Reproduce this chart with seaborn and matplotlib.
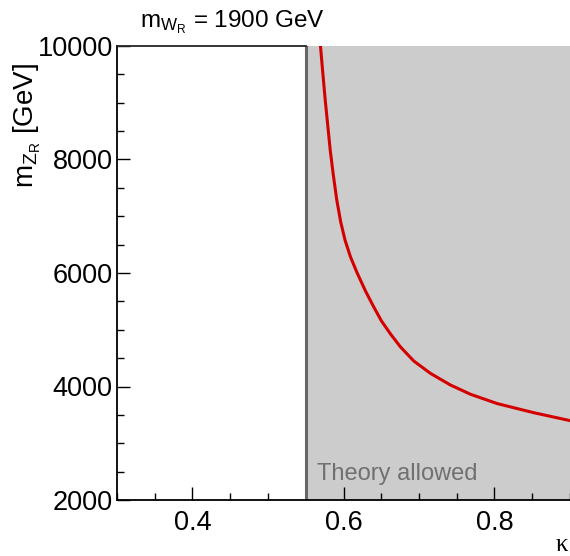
import numpy as np
import pandas as pd
import seaborn as sns
import matplotlib
matplotlib.use('Agg')
from matplotlib import pyplot as plt
from matplotlib.ticker import MultipleLocator

# curve: kappa vs m_ZR [GeV]
kappa = [0.5695, 0.5726, 0.5758, 0.5791, 0.5824, 0.5865, 0.5911, 0.5963,
         0.6020, 0.6093, 0.6181, 0.6291, 0.6401, 0.6503, 0.6623, 0.6755,
         0.6931, 0.7152, 0.7417, 0.7682, 0.8036, 0.8521, 0.9007]
m_zr = [10000, 9524, 9048, 8608, 8167, 7727, 7286, 6899,
        6581, 6282, 6000, 5683, 5401, 5154, 4925, 4696,
        4449, 4231, 4026, 3863, 3699, 3538, 3397]

kappa_min = 0.55      # theory allowed boundary
m_wr = 1900
x_range = (0.3, 0.9)
y_range = (2000, 10000)
x_ticks = [0.4, 0.6, 0.8]
y_ticks = [2000, 4000, 6000, 8000, 10000]

df = pd.DataFrame({'kappa': kappa, 'm_zr': m_zr})

sns.set_style('ticks', {'text.color': 'black', 'xtick.color': 'black',
                        'ytick.color': 'black', 'axes.labelcolor': 'black'})
plt.rcParams['font.family'] = ['Liberation Sans', 'DejaVu Sans']
plt.rcParams['mathtext.fontset'] = 'custom'
plt.rcParams['mathtext.rm'] = 'Liberation Sans'
plt.rcParams['mathtext.it'] = 'Liberation Sans'

fig = plt.figure(figsize=(5.7, 5.56), dpi=100)
ax = fig.add_axes([117 / 570, 1 - 500 / 556, 453 / 570, 454 / 556])

# shaded allowed region + its boundary
ax.axvspan(kappa_min, x_range[1], color='#cccccc', lw=0, zorder=0.5)
ax.axvline(kappa_min, color='#666666', lw=2.2, zorder=1)

sns.lineplot(data=df, x='kappa', y='m_zr', ax=ax, color='#d40000', lw=2.2,
             zorder=2, estimator=None, sort=False)

ax.text(0.565, 2350, 'Theory allowed', color='#707070', fontsize=17,
        ha='left', va='baseline')

ax.set_xlim(*x_range)
ax.set_ylim(*y_range)
ax.set_xticks(x_ticks)
ax.set_yticks(y_ticks)
ax.set_xticklabels([f'{t:.1f}' for t in x_ticks])
ax.set_yticklabels([str(t) for t in y_ticks])
ax.xaxis.set_minor_locator(MultipleLocator(0.05))
ax.yaxis.set_minor_locator(MultipleLocator(500))
ax.tick_params(which='major', direction='in', length=9.5, width=1,
               labelsize=19.5, color='black', labelcolor='black')
ax.tick_params(axis='x', which='major', pad=7)
ax.tick_params(axis='y', which='major', pad=3)
ax.tick_params(which='minor', direction='in', length=5, width=1)
ax.set_xlabel('')
ax.set_ylabel('')

for s in ['left', 'bottom']:
    ax.spines[s].set_linewidth(1.3)
    ax.spines[s].set_color('black')
ax.spines['right'].set_visible(False)
ax.spines['top'].set_linewidth(1.3)
ax.spines['top'].set_bounds(x_range[0], kappa_min)

fig.text(140 / 570, 1 - 27 / 556, r'm$_{\mathrm{W}_{\mathrm{R}}}$ = %d GeV' % m_wr,
         fontsize=17.5, ha='left', va='baseline')
fig.text(27 / 570, 1 - 63 / 556, r'm$_{\mathrm{Z}_{\mathrm{R}}}$ [GeV]',
         fontsize=20, rotation=90, ha='center', va='top')
fig.text(568 / 570, 1 - 551 / 556, 'κ', fontsize=18, ha='right', va='baseline',
         family=['Liberation Serif', 'DejaVu Serif'])

fig.savefig('out.png', dpi=100)
